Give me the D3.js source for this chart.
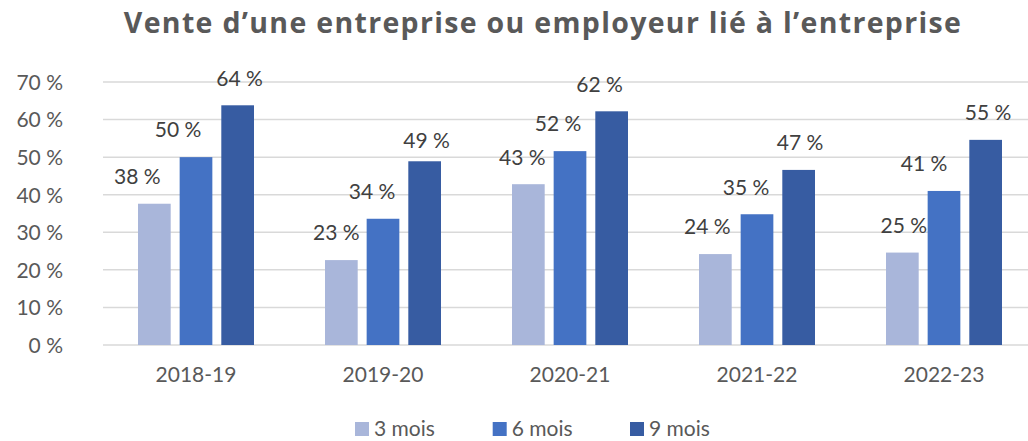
<!DOCTYPE html>
<html><head><meta charset="utf-8">
<script src="https://cdn.jsdelivr.net/npm/d3@7"></script>
<style>
html,body{margin:0;padding:0;background:#fff;}
svg{display:block;font-family:Lato, "Open Sans", sans-serif;}
</style></head>
<body>
<svg id="chart" width="1028" height="441"></svg>
<script>
const title = "Vente d’une entreprise ou employeur lié à l’entreprise";
const categories = ["2018-19", "2019-20", "2020-21", "2021-22", "2022-23"];
const seriesNames = ["3 mois", "6 mois", "9 mois"];
const mois3 = [37.6, 22.6, 42.8, 24.2, 24.6];
const mois6 = [50.0, 33.6, 51.6, 34.8, 41.0];
const mois9 = [63.8, 48.9, 62.2, 46.6, 54.6];
const yTicks = [0, 10, 20, 30, 40, 50, 60, 70];
const colors = ["#A9B6DA", "#4472C4", "#375CA2"];

// manual label nudges (layout only), per category per series
const labelDx = [[-17,-18,2],[-5,-11,2],[-6,-12,-12],[-8,-11,1.5],[1.5,-20,2.5]];
const labelDy = [[0,0,0],[0,0,6],[0,0,0],[0,0,0],[0,0,0]];

const seriesValues = [mois3, mois6, mois9];
const svg = d3.select("#chart");
const W = 1028, H = 441;
const FS = 21;

const x = d3.scaleBand().domain(categories).range([102.5, 1037.5]).paddingInner(0).paddingOuter(0);
const xs = d3.scaleBand().domain(d3.range(3)).range([-58, 58]).paddingInner(0.215).paddingOuter(0);
const y = d3.scaleLinear().domain([0, 70]).range([345, 82]);

// gridlines
svg.append("g").selectAll("line").data(yTicks).join("line")
  .attr("x1", 103).attr("x2", W)
  .attr("y1", d => y(d)).attr("y2", d => y(d))
  .attr("stroke", "#D9D9D9").attr("stroke-width", 1.5);

// y axis labels
const yAxis = d3.axisLeft(y).tickValues(yTicks).tickSize(0).tickPadding(0)
  .tickFormat(d => d + "\u00a0%");
const ga = svg.append("g").attr("transform", "translate(63,0)").call(yAxis);
ga.select(".domain").remove();
ga.selectAll("text").attr("font-size", FS).attr("fill", "#595959")
  .attr("font-family", "Lato, sans-serif").attr("dy", "0.35em");

// x axis labels
const xAxis = d3.axisBottom(x).tickSize(0).tickPadding(0);
const gx = svg.append("g").attr("transform", "translate(0,367)").call(xAxis);
gx.select(".domain").remove();
gx.selectAll("text").attr("font-size", FS).attr("fill", "#595959")
  .attr("font-family", "Lato, sans-serif").attr("dy", "0.71em");

// bars
const flat = [];
categories.forEach((c, i) => seriesValues.forEach((vals, s) => flat.push({c, i, s, v: vals[i]})));
const cx = d => x(d.c) + x.bandwidth() / 2;
svg.append("g").selectAll("rect").data(flat).join("rect")
  .attr("x", d => cx(d) + xs(d.s))
  .attr("width", xs.bandwidth())
  .attr("y", d => y(d.v))
  .attr("height", d => y(0) - y(d.v))
  .attr("fill", d => colors[d.s]);

// data labels
const fmt = d3.format(".0f");
svg.append("g").selectAll("text").data(flat).join("text")
  .attr("x", d => cx(d) + xs(d.s) + xs.bandwidth() / 2 + labelDx[d.i][d.s])
  .attr("y", d => y(d.v) - 27 + labelDy[d.i][d.s])
  .attr("dy", "0.35em")
  .attr("text-anchor", "middle")
  .attr("font-size", FS).attr("fill", "#404040")
  .text(d => fmt(d.v) + "\u00a0%");

// title
const t = svg.append("text").attr("x", 543).attr("y", 32.7)
  .attr("text-anchor", "middle").attr("font-weight", "bold")
  .attr("font-family", "'Open Sans', sans-serif")
  .attr("font-size", 28.5).attr("fill", "#595959").text(title);
const tw = t.node().getComputedTextLength();
t.attr("letter-spacing", Math.max(0, (837 - tw) / (title.length - 1)).toFixed(3) + "px");

// legend
const legendX = [355, 492.7, 630];
const lg = svg.append("g").selectAll("g").data(seriesNames).join("g")
  .attr("transform", (d, i) => `translate(${legendX[i]},0)`);
lg.append("rect").attr("x", 0).attr("y", 422).attr("width", 14).attr("height", 14)
  .attr("fill", (d, i) => colors[i]);
lg.append("text").attr("x", 19).attr("y", 429).attr("dy", "0.35em")
  .attr("font-size", FS).attr("fill", "#595959").text(d => d);
</script>
</body></html>
